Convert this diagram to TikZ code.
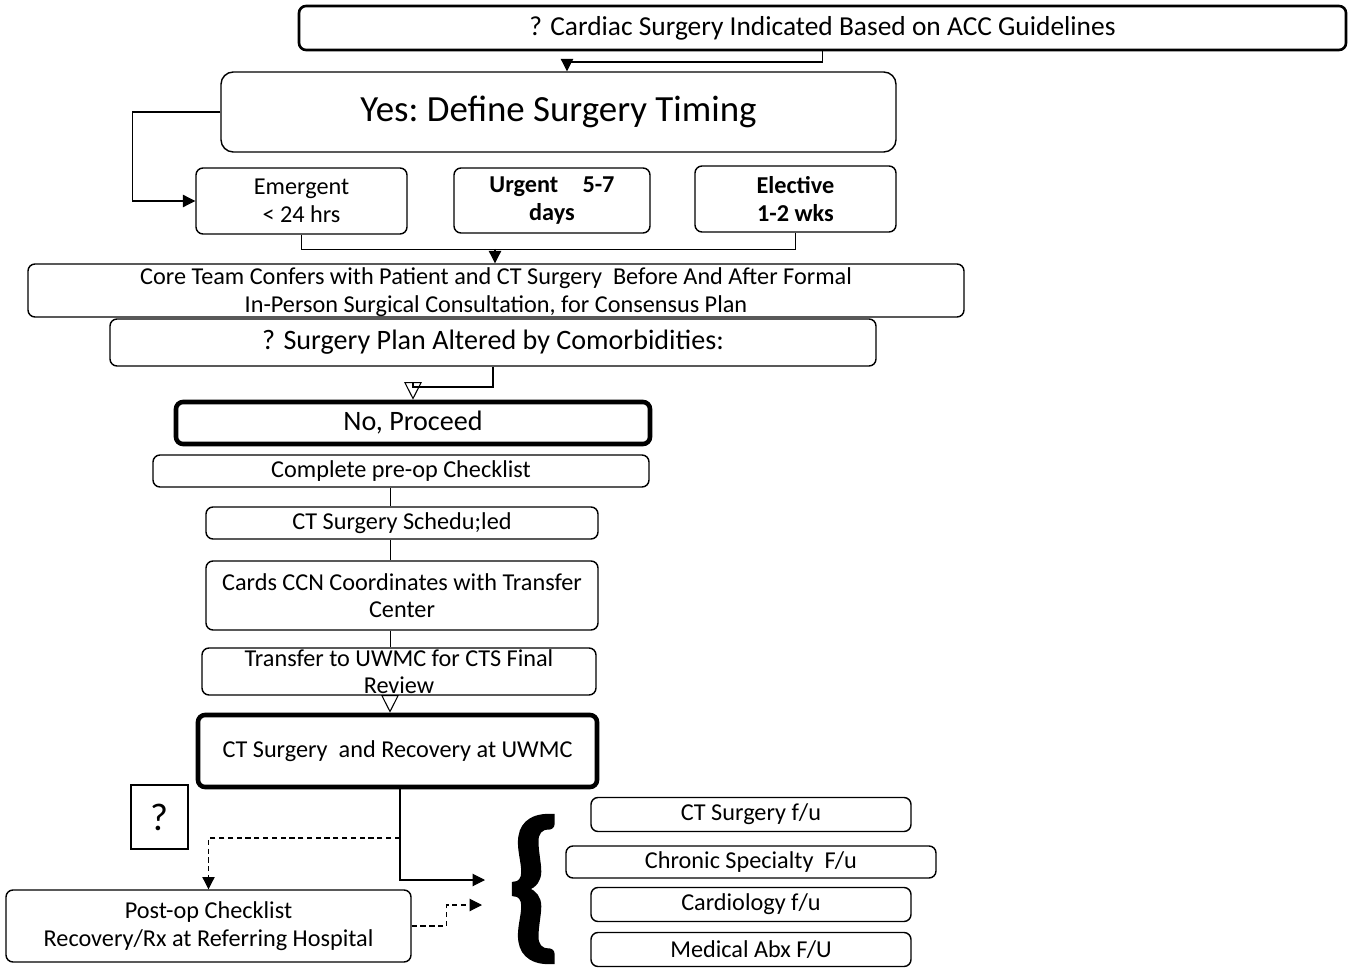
\documentclass[tikz,border=0pt]{standalone}
\usepackage{fontspec}
\setmainfont{Carlito}
\newfontfamily\bracefont[FakeBold=1.4]{Carlito}
\usetikzlibrary{arrows.meta, positioning, calc}

\begin{document}
\begin{tikzpicture}[
  box/.style   = {draw, rounded corners=4pt, line width=0.8pt, inner sep=0pt, align=center},
  heavy/.style = {box, line width=2.6pt},
  txt/.style   = {font=\fontsize{13.8}{15.6}\selectfont},
  big/.style   = {font=\fontsize{16}{18}\selectfont},
  fu/.style    = {box, txt, minimum width=6.4cm, minimum height=0.68cm},
  arr/.style   = {-{Triangle[length=7pt,width=7pt]}, line width=0.6pt},
  oarr/.style  = {-{Triangle[open,length=10pt,width=10pt]}, line width=0.6pt},
  darr/.style  = {arr, dash pattern=on 3pt off 2pt},
]
\useasboundingbox (0,0) rectangle (26.98,-19.46);
% ── decision on timing ──
\node[box, line width=1.5pt, minimum width=20.94cm, minimum height=0.88cm,
      font=\fontsize{15.6}{18}\selectfont] (ask) at (16.45,-0.56)
      {? Cardiac Surgery Indicated Based on ACC Guidelines};
\node[box, rounded corners=7pt, minimum width=13.5cm, minimum height=1.6cm,
      font=\fontsize{21}{24}\selectfont] (yes) at (11.17,-2.24)
      {Yes:\ Define Surgery Timing};
\node[box, txt, minimum width=4.22cm, minimum height=1.32cm] (emerg) at (6.03,-4.02)
      {Emergent\\ \textless{} 24 hrs};
\node[box, txt, minimum width=3.92cm, minimum height=1.30cm] (urgent) at (11.04,-4.01)
      {\textbf{Urgent\quad 5-7}\\ \textbf{days}};
\node[box, txt, minimum width=4.02cm, minimum height=1.32cm] (elect) at (15.91,-3.98)
      {\textbf{Elective}\\ \textbf{1-2 wks}};
\node[box, minimum width=18.72cm, minimum height=1.06cm,
      label={[txt, align=center, yshift=-1pt]center:Core Team Confers with Patient and CT Surgery\ \ Before And After Formal\\
       In-Person Surgical Consultation, for Consensus Plan}] (core) at (9.92,-5.81) {};
\node[box, big, minimum width=15.32cm, minimum height=0.94cm] (alter) at (9.86,-6.85)
      {? Surgery Plan Altered by Comorbidities:};
% ── proceed chain ──
\node[heavy, big, minimum width=9.48cm, minimum height=0.84cm] (proceed) at (8.26,-8.46) {No, Proceed};
\node[box, txt, minimum width=9.92cm, minimum height=0.64cm] (preop) at (8.02,-9.42)
      {Complete pre-op Checklist};
\node[box, txt, minimum width=7.84cm, minimum height=0.64cm] (sched) at (8.04,-10.46)
      {CT Surgery Schedu;led};
\node[box, txt, minimum width=7.84cm, minimum height=1.38cm] (cards) at (8.04,-11.91)
      {Cards CCN Coordinates with Transfer\\ Center};
\node[box, minimum width=7.88cm, minimum height=0.94cm,
      label={[txt, align=center]center:Transfer to UWMC for CTS Final\\ Review}] (xfer) at (7.98,-13.43) {};
\node[heavy, txt, minimum width=7.98cm, minimum height=1.44cm] (recov) at (7.95,-15.02)
      {CT Surgery\ \ and Recovery at UWMC};
% ── after surgery ──
\node[draw, line width=0.8pt, minimum width=1.14cm, minimum height=1.28cm,
      font=\fontsize{22}{24}\selectfont] (query) at (3.19,-16.34) {?};
\node[box, txt, minimum width=8.1cm, minimum height=1.44cm] (postop) at (4.17,-18.52)
      {Post-op Checklist\\ Recovery/Rx at Referring Hospital};
\node[font=\fontsize{96}{96}\bracefont\bfseries\selectfont, inner sep=0pt] (brace) at (10.7,-17.78) {\{};
\node[fu] (ctfu) at (15.02,-16.29) {CT Surgery f/u};
\node[box, txt, minimum width=7.4cm, minimum height=0.64cm] (chronic) at (15.02,-17.24)
      {Chronic Specialty\ \ F/u};
\node[fu] (cardio) at (15.02,-18.09) {Cardiology f/u};
\node[fu] (abx) at (15.02,-18.99) {Medical Abx F/U};
% ── connectors ──
\coordinate (bend) at (11.34,-1.24);
\draw[arr] (ask.south) |- (bend) -- (bend |- yes.north);
\draw[arr] (yes.west) -- ++(-1.76,0) |- (emerg.west);
\coordinate (join) at (9.9,-4.98);
\draw (emerg.south) |- (join);
\draw (elect.south) |- (join);
\draw[arr] (join) -- (join |- core.north);
\coordinate (drop) at (8.26,-7.74);
\draw[oarr] (alter.south) |- (drop) -- (proceed.north);
\coordinate (spine) at (7.8,0);
\draw (preop.south -| spine) -- (sched.north -| spine);
\draw (sched.south -| spine) -- (cards.north -| spine);
\draw (cards.south -| spine) -- (xfer.north -| spine);
\draw[oarr] (xfer.south -| spine) -- (recov.north -| spine);
\coordinate (into) at (9.7,-17.6);
\coordinate (split) at (8.0,-16.76);
\coordinate (into2) at (9.64,-18.1);
\draw[arr] ([xshift=0.05cm]recov.south) |- (into);
\draw[darr] (split) -| (postop.north);
\draw[darr] (postop.east) -- ++(0.7,0) |- (into2);
\end{tikzpicture}
\end{document}
